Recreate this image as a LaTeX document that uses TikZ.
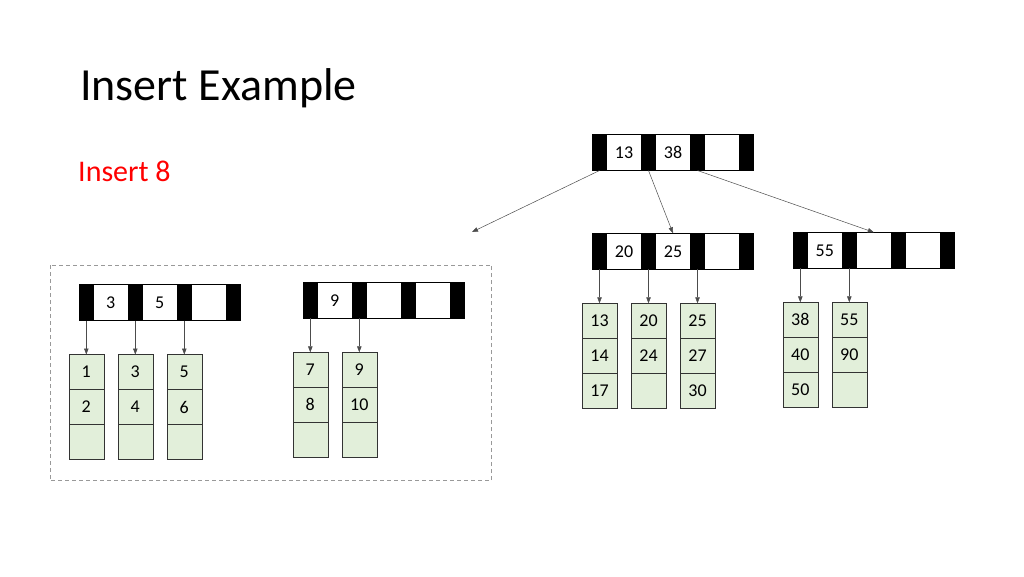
\documentclass[tikz,border=0pt]{standalone}
\usepackage{fontspec}
\setmainfont{Carlito}
\usetikzlibrary{
	arrows.meta,
	positioning,
}
\definecolor{leafgreen}{HTML}{E2EFDA}
\definecolor{notered}{HTML}{FF0000}
\tikzset{bar/.style={draw=black,fill=black,minimum width=14pt,minimum height=36pt,inner sep=0pt,outer sep=0pt,}}
\tikzset{key/.style={draw=black,fill=white,minimum width=35pt,minimum height=36pt,inner sep=0pt,outer sep=0pt,font=\fontsize{18}{20}\selectfont,}}
\tikzset{rec/.style={draw=black!80,fill=leafgreen,minimum width=35pt,minimum height=35pt,inner sep=0pt,outer sep=0pt,font=\fontsize{18}{20}\selectfont,}}
\tikzset{ptr/.style={->,black!70,line width=0.5pt,}}
\tikzset{group/.style={draw=black!40,dash pattern=on 4pt off 3pt,line width=0.8pt,}}
\tikzset{
	>={Triangle[length=6pt,width=4.5pt]},
}

\newcommand{\innernode}[5]{%
	\node[bar] (#1-p1) at (#2) {};
	\node[key,right=0pt of #1-p1] (#1-k1) {#3};
	\node[bar,right=0pt of #1-k1] (#1-p2) {};
	\node[key,right=0pt of #1-p2] (#1-k2) {#4};
	\node[bar,right=0pt of #1-k2] (#1-p3) {};
	\node[key,right=0pt of #1-p3] (#1-k3) {#5};
	\node[bar,right=0pt of #1-k3] (#1-p4) {};
}
\newcommand{\leafnode}[5]{%
	\node[rec,below=34pt of #2] (#1-1) {#3};
	\node[rec,below=0pt of #1-1] (#1-2) {#4};
	\node[rec,below=0pt of #1-2] (#1-3) {#5};
	\draw[ptr] (#2) -- (#1-1);
}

\begin{document}
\begin{tikzpicture}[x=1pt,y=-1pt]
\useasboundingbox (0,0) rectangle (1024,576);

\node[anchor=base west,inner sep=0pt,font=\fontsize{46}{50}\selectfont] (title) at (80,100) {Insert Example};
\node[anchor=base west,inner sep=0pt,text=notered,font=\fontsize{30}{34}\selectfont] (note) at (78,181.7) {Insert 8};

\innernode{n13}{599.5,152.5}{13}{38}{}
\innernode{n20}{599.5,251.3}{20}{25}{}
\innernode{n55}{800.3,250.3}{55}{}{}
\innernode{n3}{86.3,302.5}{3}{5}{}
\innernode{n9}{310.3,300.3}{9}{}{}

\leafnode{l13}{n20-p1}{13}{14}{17}
\leafnode{l20}{n20-p2}{20}{24}{}
\leafnode{l25}{n20-p3}{25}{27}{30}
\leafnode{l38}{n55-p1}{38}{40}{50}
\leafnode{l55}{n55-p2}{55}{90}{}
\leafnode{l1}{n3-p1}{1}{2}{}
\leafnode{l3}{n3-p2}{3}{4}{}
\leafnode{l5}{n3-p3}{5}{6}{}
\leafnode{l7}{n9-p1}{7}{8}{}
\leafnode{l9}{n9-p2}{9}{10}{}

\coordinate (split) at (472,232);
\draw[ptr] (n13-p1.south) -- (split);
\draw[ptr] (n13-p2.south) -- (n20-k2.north);
\draw[ptr] (n13-p3.south) -- (n55-k2.north);

\draw[group] (50,265) rectangle (491.7,480.7);

\end{tikzpicture}
\end{document}
